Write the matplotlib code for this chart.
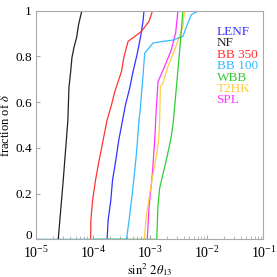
import numpy as np
import matplotlib
matplotlib.use("Agg")
import matplotlib.pyplot as plt

plt.rcParams['font.family'] = ['Liberation Serif', 'DejaVu Serif']
plt.rcParams['mathtext.fontset'] = 'stix'

# log10(sin^2 2theta13) vs fraction of delta
lenf_x = [-3.749, -3.732, -3.684, -3.654, -3.596, -3.544, -3.486, -3.426, -3.351, -3.293, -3.223, -3.163, -3.118, -3.100]
lenf_y = [0.0, 0.083, 0.171, 0.259, 0.346, 0.434, 0.509, 0.588, 0.662, 0.734, 0.807, 0.882, 0.953, 1.0]

nf_x = [-4.609, -4.521, -4.439, -4.421, -4.391, -4.368, -4.333, -4.286, -4.251, -4.193, -1.0]
nf_y = [0.0, 0.259, 0.522, 0.662, 0.732, 0.794, 0.838, 0.882, 0.939, 1.0, 1.0]

bb350_x = [-4.040, -4.035, -4.005, -3.953, -3.889, -3.819, -3.749, -3.672, -3.614, -3.496, -3.456,
           -3.381, -3.263, -3.146, -3.012, -2.953, -2.947]
bb350_y = [0.0, 0.083, 0.171, 0.259, 0.346, 0.434, 0.522, 0.588, 0.646, 0.734, 0.794,
           0.865, 0.887, 0.909, 0.953, 0.997, 1.0]

bb100_x = [-5.0, -3.409, -3.363, -3.293, -3.233, -3.188, -3.167, -3.135, -3.088, -2.942, -2.767,
           -2.591, -2.416, -2.328, -2.268, -2.135]
bb100_y = [0.0, 0.0, 0.083, 0.229, 0.377, 0.522, 0.566, 0.662, 0.814, 0.858, 0.865,
           0.871, 0.887, 0.946, 0.982, 1.0]

wbb_x = [-4.0, -2.877, -2.854, -2.825, -2.763, -2.696, -2.632, -2.591, -2.532, -2.474, -2.416, -1.0]
wbb_y = [0.0, 0.0, 0.149, 0.224, 0.289, 0.360, 0.434, 0.500, 0.661, 0.822, 1.0, 1.0]

t2hk_x = [-3.096, -3.061, -2.998, -2.939, -2.886, -2.842, -2.825, -2.812, -2.767, -2.679, -2.561,
          -2.474, -2.416, -2.386]
t2hk_y = [0.0, 0.098, 0.202, 0.289, 0.360, 0.434, 0.522, 0.667, 0.683, 0.756, 0.829,
          0.887, 0.931, 1.0]

spl_x = [-3.044, -3.012, -2.953, -2.912, -2.886, -2.854, -2.737, -2.619, -2.544, -2.504]
spl_y = [0.0, 0.140, 0.289, 0.434, 0.566, 0.689, 0.756, 0.829, 0.902, 1.0]

c_lenf = '#3333ff'
c_nf = '#222222'
c_bb350 = '#ff3333'
c_bb100 = '#33bbff'
c_wbb = '#33cc33'
c_t2hk = '#ffcc44'
c_spl = '#ff33ff'

fig = plt.figure(figsize=(2.77, 2.77), dpi=100)
ax = fig.add_axes([0.130, 0.136, 0.821, 0.826])

lw = 0.9
ax.plot(10**np.array(lenf_x), lenf_y, color=c_lenf, lw=lw)
ax.plot(10**np.array(bb350_x), bb350_y, color=c_bb350, lw=lw)
ax.plot(10**np.array(spl_x), spl_y, color=c_spl, lw=lw)
ax.plot(10**np.array(t2hk_x), t2hk_y, color=c_t2hk, lw=lw)
ax.plot(10**np.array(bb100_x), bb100_y, color=c_bb100, lw=lw)
ax.plot(10**np.array(nf_x), nf_y, color=c_nf, lw=lw)
ax.plot(10**np.array(wbb_x), wbb_y, color=c_wbb, lw=lw)

ax.set_xscale('log')
ax.set_xlim(1e-5, 1e-1)
ax.set_ylim(0, 1)
ax.set_yticks([0, 0.2, 0.4, 0.6, 0.8, 1])
ax.set_yticklabels(['0', '0.2', '0.4', '0.6', '0.8', '1'])
# keep the "0" clear of the 10^-5 label below it
ax.get_yticklabels()[0].set_va('baseline')

for s in ax.spines.values():
    s.set_color('#aaaaaa')
    s.set_linewidth(0.8)
ax.tick_params(which='both', direction='in', color='#aaaaaa')
ax.tick_params(axis='y', pad=3, labelsize=9.5)
ax.tick_params(axis='x', pad=4, labelsize=10)
ax.tick_params(which='major', length=3)
ax.tick_params(which='minor', length=2)

ax.set_xlabel(r'$\sin^2\,2\theta_{13}$', fontsize=9)
ax.xaxis.set_label_coords(0.5, -0.095)
ax.xaxis.label.set_va('top')
ax.set_ylabel(r'fraction of $\delta$', fontsize=9, labelpad=2)

names = ['LENF', 'NF', 'BB 350', 'BB 100', 'WBB', 'T2HK', 'SPL']
cols = [c_lenf, c_nf, c_bb350, c_bb100, c_wbb, c_t2hk, c_spl]
for i, (n, c) in enumerate(zip(names, cols)):
    ax.text(0.794, 0.906 - i * 0.0498, n, color=c, fontsize=9.5,
            transform=ax.transAxes, va='center', ha='left')

fig.savefig('out.png', dpi=100)
